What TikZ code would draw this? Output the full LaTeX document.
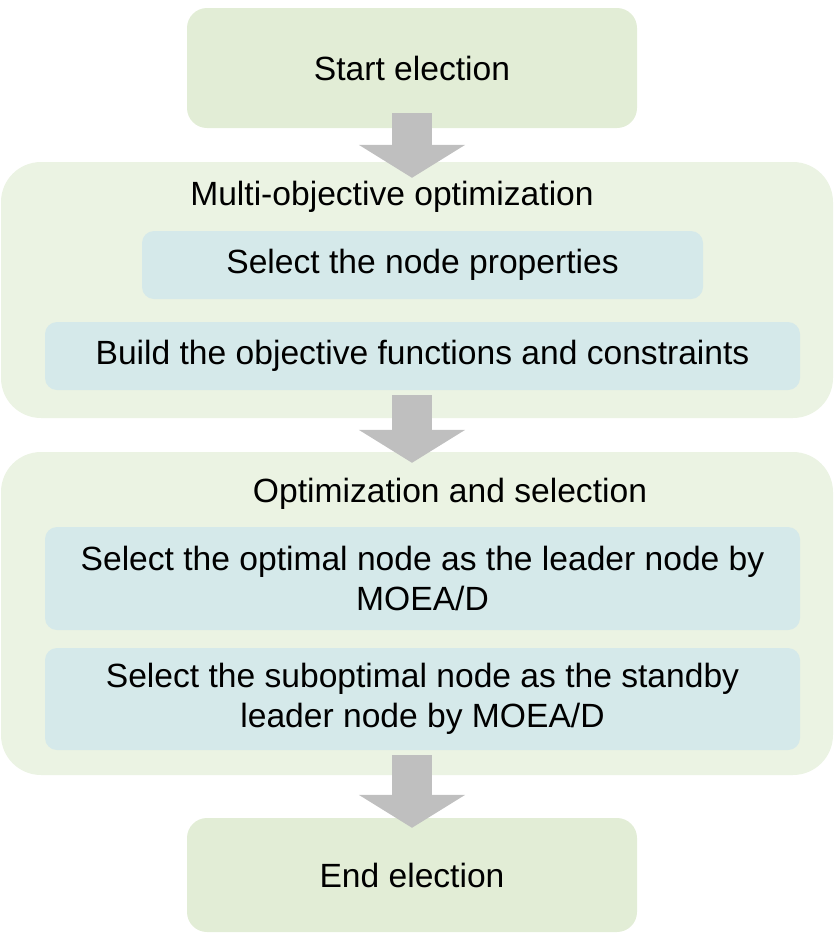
\documentclass[tikz,border=0pt]{standalone}
\usepackage{fontspec}
\setmainfont{Liberation Sans}
\usepackage{tikz}
\usetikzlibrary{arrows.meta, positioning}
\definecolor{stepgreen}{RGB}{226,237,214}
\definecolor{groupgreen}{RGB}{235,243,227}
\definecolor{taskblue}{RGB}{213,233,234}
\definecolor{arrowgray}{RGB}{191,191,191}
\tikzstyle{stepbox} = [fill=stepgreen, rounded corners=20pt, minimum width=450pt, minimum height=120pt]
\tikzstyle{groupbox} = [fill=groupgreen, rounded corners=40pt, minimum width=832pt]
\tikzstyle{taskbox} = [fill=taskblue, rounded corners=12pt, minimum height=68pt, align=center]
\tikzstyle{bigarrow} = [draw=arrowgray, line width=40pt, -{Triangle[width=105pt,length=33pt]}]

\begin{document}
\begin{tikzpicture}[x=1pt, y=-1pt, font=\fontsize{33.6}{40}\selectfont]
\useasboundingbox (0,0) rectangle (834,935);
\node[stepbox] (start) at (412,68) {Start election};

\node[groupbox, minimum height=256pt] (moo) at (417,290) {};
\node (mootitle) at (392,197) {Multi-objective optimization};
\node[taskbox, minimum width=561pt] (props) at (422.5,265) {Select the node properties};
\node[taskbox, minimum width=755pt] (build) at (422.5,356) {Build the objective functions and constraints};

\node[groupbox, minimum height=323pt] (opt) at (417,613.5) {};
\node (opttitle) at (450,494) {Optimization and selection};
\node[taskbox, minimum width=755pt, minimum height=103pt] (leader) at (422.5,578.5) {Select the optimal node as the leader node by\\MOEA/D};
\node[taskbox, minimum width=755pt, minimum height=102pt] (standby) at (422.5,699) {Select the suboptimal node as the standby\\leader node by MOEA/D};

\node[stepbox, minimum height=114pt] (end) at (412,875) {End election};

\draw[bigarrow] ([yshift=15pt]start.south) -- ([yshift=-16pt]start.south |- moo.north);
\draw[bigarrow] ([yshift=23pt]start.south |- moo.south) -- ([yshift=-11pt]start.south |- opt.north);
\draw[bigarrow] ([yshift=20pt]start.south |- opt.south) -- ([yshift=-10pt]end.north);
\end{tikzpicture}
\end{document}
